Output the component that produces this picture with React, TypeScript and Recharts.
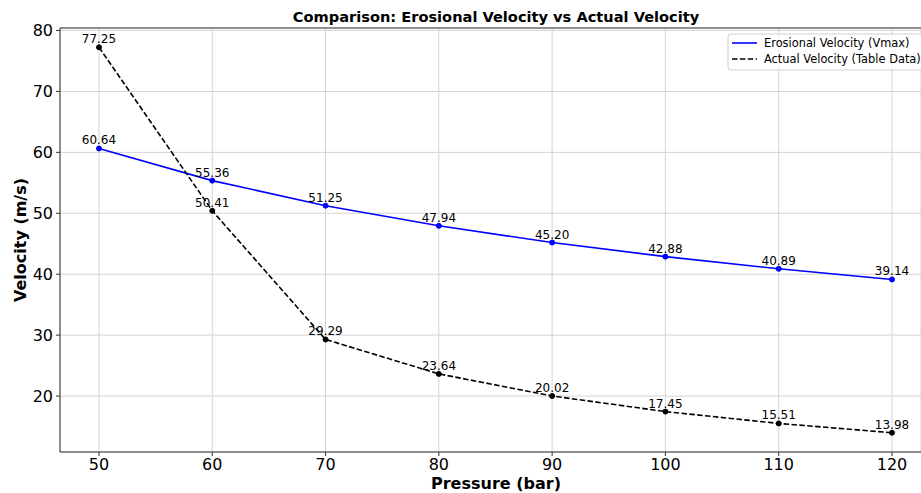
import React from "react";
import {
  LineChart,
  Line,
  XAxis,
  YAxis,
  CartesianGrid,
  LabelList,
  ReferenceLine,
} from "recharts";

const pressures = [50, 60, 70, 80, 90, 100, 110, 120];
const erosionalVelocity = [60.64, 55.36, 51.25, 47.94, 45.2, 42.88, 40.89, 39.14];
const actualVelocity = [77.25, 50.41, 29.29, 23.64, 20.02, 17.45, 15.51, 13.98];
const xTicks = [50, 60, 70, 80, 90, 100, 110, 120];
const yTicks = [20, 30, 40, 50, 60, 70, 80];

const titleText = "Comparison: Erosional Velocity vs Actual Velocity";
const xLabel = "Pressure (bar)";
const yLabel = "Velocity (m/s)";
const seriesNames = ["Erosional Velocity (Vmax)", "Actual Velocity (Table Data)"];

const data = pressures.map((p, i) => ({
  pressure: p,
  erosional: erosionalVelocity[i],
  actual: actualVelocity[i],
}));

const FONT = "DejaVu Sans, sans-serif";
const X_DOMAIN: [number, number] = [46.56, 122.56];
const Y_DOMAIN: [number, number] = [10.82, 80.41];

const fmt = (v: any) => Number(v).toFixed(2);

export default function App() {
  return (
    <div style={{ position: "absolute", left: 0, top: 0, width: 921, height: 493, background: "#fff" }}>
      <LineChart
        width={921}
        height={493}
        data={data}
        margin={{ top: 28, right: 0, bottom: 0, left: 0 }}
        style={{ fontFamily: FONT }}
      >
        <CartesianGrid stroke="#d4d4d4" strokeWidth={1} />
        <XAxis
          dataKey="pressure"
          type="number"
          domain={X_DOMAIN}
          ticks={xTicks}
          allowDataOverflow
          height={41}
          tickSize={4}
          tickMargin={3}
          stroke="#333"
          tick={{ fill: "#000", fontSize: 16, fontFamily: FONT }}
        />
        <YAxis
          type="number"
          domain={Y_DOMAIN}
          ticks={yTicks}
          allowDataOverflow
          width={60}
          tickSize={4}
          tickMargin={3}
          stroke="#333"
          tick={{ fill: "#000", fontSize: 16, fontFamily: FONT }}
        />
        <ReferenceLine y={Y_DOMAIN[1]} stroke="#333" ifOverflow="extendDomain" />
        <Line
          type="linear"
          dataKey="erosional"
          name={seriesNames[0]}
          stroke="#0000ff"
          strokeWidth={1.6}
          dot={{ r: 2.5, fill: "#0000ff", stroke: "#0000ff", strokeWidth: 1 }}
          isAnimationActive={false}
        >
          <LabelList
            dataKey="erosional"
            position="top"
            offset={4}
            formatter={fmt}
            style={{ fill: "#000", fontSize: 12, fontFamily: FONT }}
          />
        </Line>
        <Line
          type="linear"
          dataKey="actual"
          name={seriesNames[1]}
          stroke="#000"
          strokeWidth={1.6}
          strokeDasharray="5.5 2.4"
          dot={{ r: 2.5, fill: "#000", stroke: "#000", strokeWidth: 1, strokeDasharray: "" }}
          isAnimationActive={false}
        >
          <LabelList
            dataKey="actual"
            position="top"
            offset={4}
            formatter={fmt}
            style={{ fill: "#000", fontSize: 12, fontFamily: FONT }}
          />
        </Line>
        <text x={496} y={22} textAnchor="middle" fontFamily={FONT} fontWeight="bold" fontSize={14.6} fill="#000">
          {titleText}
        </text>
        <text x={496} y={489} textAnchor="middle" fontFamily={FONT} fontWeight="bold" fontSize={16} fill="#000">
          {xLabel}
        </text>
        <text
          x={26}
          y={240}
          textAnchor="middle"
          fontFamily={FONT}
          fontWeight="bold"
          fontSize={16}
          fill="#000"
          transform="rotate(-90 26 240)"
        >
          {yLabel}
        </text>
        <g>
          <rect x={728} y={34} width={210} height={36} rx={3} fill="#fff" fillOpacity={0.8} stroke="#d0d0d0" />
          <line x1={732} y1={43} x2={757} y2={43} stroke="#0000ff" strokeWidth={1.6} />
          <text x={764} y={47} fontFamily={FONT} fontSize={11.4} fill="#000">
            {seriesNames[0]}
          </text>
          <line x1={732} y1={59} x2={757} y2={59} stroke="#000" strokeWidth={1.6} strokeDasharray="5.5 2.4" />
          <text x={764} y={63} fontFamily={FONT} fontSize={11.4} fill="#000">
            {seriesNames[1]}
          </text>
        </g>
      </LineChart>
    </div>
  );
}
